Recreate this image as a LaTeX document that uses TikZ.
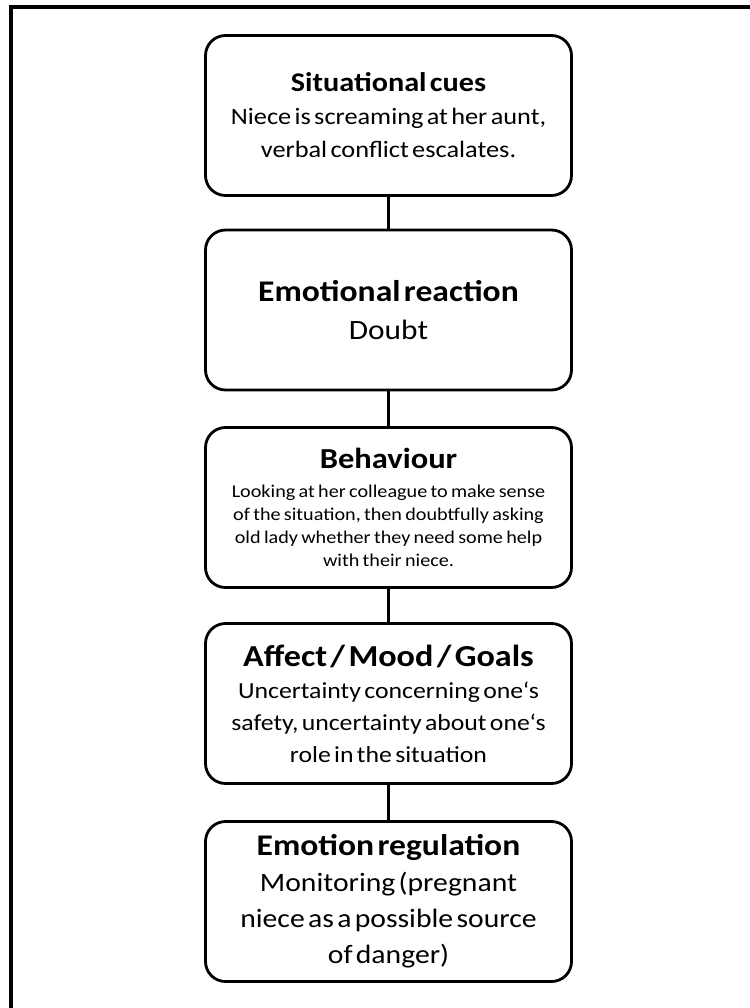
\documentclass[tikz,border=0pt]{standalone}
\usepackage{fontspec}
\setmainfont[FakeStretch=1.12,WordSpace=1.5]{Carlito}
\begin{document}
\begin{tikzpicture}[x=1pt,y=-1pt,
  stagebox/.style={draw,line width=2.8pt,rounded corners=20pt,
    minimum width=366pt,minimum height=160pt,
    text width=362pt,align=center,inner sep=0pt},
  link/.style={line width=2.8pt},
  frame/.style={line width=4pt}]
\useasboundingbox (0,0) rectangle (749,1008);

% outer frame, cut off at right and bottom
\coordinate (fbl) at (11,1014);
\coordinate (ftr) at (755,7);
\draw[frame] (fbl) |- (ftr);

\node[stagebox] (cues) at (388.5,115.5)
  {\fontsize{27}{32}\selectfont\bfseries Situational cues\par
   \fontsize{23.5}{33}\selectfont\mdseries Niece is screaming at her aunt,\\ verbal conflict escalates.\par};
\node[stagebox] (reaction) at (388.5,310)
  {\fontsize{30}{36}\selectfont\bfseries Emotional reaction\par
   \fontsize{28}{38}\selectfont\mdseries Doubt\par};
\node[stagebox] (behaviour) at (388.5,507.5)
  {\fontsize{29}{34}\selectfont\bfseries Behaviour\par\vspace{6pt}
   \fontsize{18}{23}\selectfont\mdseries Looking at her colleague to make sense\\ of the situation, then doubtfully asking\\ old lady whether they need some help\\ with their niece.\par};
\node[stagebox] (affect) at (388.5,703.5)
  {\fontsize{30.5}{36}\selectfont\bfseries Affect / Mood / Goals\par
   \fontsize{23}{32}\selectfont\mdseries Uncertainty concerning one‘s\\ safety, uncertainty about one‘s\\ role in the situation\par};
\node[stagebox] (regulation) at (388.5,901.5)
  {\fontsize{30}{36}\selectfont\bfseries Emotion regulation\par
   \fontsize{26.5}{36}\selectfont\mdseries Monitoring (pregnant\\ niece as a possible source\\ of danger)\par};

\draw[link] (cues) -- (reaction);
\draw[link] (reaction) -- (behaviour);
\draw[link] (behaviour) -- (affect);
\draw[link] (affect) -- (regulation);
\end{tikzpicture}
\end{document}
